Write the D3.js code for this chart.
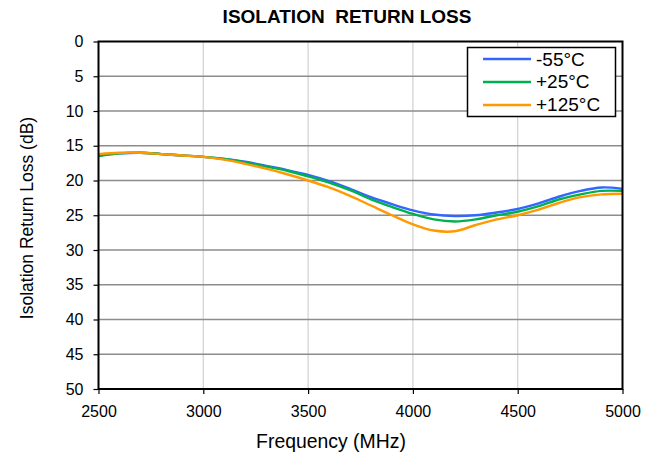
<!DOCTYPE html>
<html>
<head>
<meta charset="utf-8">
<script src="https://cdn.jsdelivr.net/npm/d3@7"></script>
<style>
  body { margin: 0; background: #fff; }
  svg { font-family: "Liberation Sans", Arial, sans-serif; }
</style>
</head>
<body>
<div id="chart"></div>
<script>
// Frequency points (MHz)
let freqs = [2500, 2600, 2700, 2800, 2900, 3000, 3100, 3200, 3300, 3400, 3500, 3600, 3700,
             3800, 3900, 4000, 4100, 4200, 4300, 4400, 4500, 4600, 4700, 4800, 4900, 5000];

// Isolation return loss (dB) per temperature
let cold = [16.4, 16.1, 16.0, 16.2, 16.4, 16.6, 16.9, 17.3, 17.9, 18.5, 19.2, 20.1, 21.2,
            22.4, 23.4, 24.3, 24.9, 25.1, 25.0, 24.6, 24.1, 23.3, 22.3, 21.5, 21.0, 21.2];
let room = [16.5, 16.1, 16.0, 16.2, 16.4, 16.6, 16.9, 17.4, 18.0, 18.6, 19.4, 20.3, 21.4,
            22.7, 23.8, 24.8, 25.6, 25.9, 25.6, 25.0, 24.5, 23.7, 22.7, 22.0, 21.5, 21.5];
let hot  = [16.2, 16.0, 16.0, 16.2, 16.4, 16.6, 17.0, 17.6, 18.3, 19.1, 20.0, 21.0, 22.2,
            23.6, 25.0, 26.3, 27.2, 27.3, 26.4, 25.6, 25.0, 24.2, 23.2, 22.4, 22.0, 21.9];

let seriesNames = ["-55°C", "+25°C", "+125°C"];
let seriesColors = ["#3366FF", "#00B050", "#FF9900"];
let seriesValues = [cold, room, hot];

let xTicks = [2500, 3000, 3500, 4000, 4500, 5000];
let yTicks = [0, 5, 10, 15, 20, 25, 30, 35, 40, 45, 50];

let width = 656;
let height = 455;
let plotLeft = 98.5, plotRight = 622.5, plotTop = 41.5, plotBottom = 389;

let svg = d3.select("#chart")
    .append("svg")
    .attr("width", width)
    .attr("height", height);

let xScale = d3.scaleLinear().domain([2500, 5000]).range([plotLeft, plotRight]);
let yScale = d3.scaleLinear().domain([0, 50]).range([plotTop, plotBottom]);

// vertical grid
svg.append("g")
    .selectAll("line")
    .data(xTicks.slice(1, -1))
    .enter()
    .append("line")
    .attr("x1", d => xScale(d)).attr("x2", d => xScale(d))
    .attr("y1", plotTop).attr("y2", plotBottom)
    .attr("stroke", "#d4d4d4")
    .attr("stroke-width", 1.3);

// horizontal grid
svg.append("g")
    .selectAll("line")
    .data(yTicks.slice(1, -1))
    .enter()
    .append("line")
    .attr("x1", plotLeft).attr("x2", plotRight)
    .attr("y1", d => yScale(d)).attr("y2", d => yScale(d))
    .attr("stroke", "#8c8c8c")
    .attr("stroke-width", 1.5);

// data lines
let line = d3.line()
    .x((d, i) => xScale(freqs[i]))
    .y(d => yScale(d))
    .curve(d3.curveCatmullRom.alpha(0.5));

seriesValues.forEach((vals, k) => {
    svg.append("path")
        .datum(vals)
        .attr("d", line)
        .attr("fill", "none")
        .attr("stroke", seriesColors[k])
        .attr("stroke-width", 2.4);
});

// plot frame
svg.append("rect")
    .attr("x", plotLeft).attr("y", plotTop)
    .attr("width", plotRight - plotLeft).attr("height", plotBottom - plotTop)
    .attr("fill", "none")
    .attr("stroke", "#000")
    .attr("stroke-width", 2);

// axes
let xAxis = d3.axisBottom(xScale).tickValues(xTicks).tickSize(5).tickSizeOuter(0).tickFormat(d3.format("d"));
let yAxis = d3.axisLeft(yScale).tickValues(yTicks).tickSize(5).tickSizeOuter(0);

let gx = svg.append("g")
    .attr("transform", "translate(0," + plotBottom + ")")
    .call(xAxis);
gx.select(".domain").remove();
gx.selectAll("line").attr("stroke", "#000").attr("stroke-width", 1.2);
gx.selectAll("text").attr("font-size", 16).attr("fill", "#000").attr("y", 16.5);

let gy = svg.append("g")
    .attr("transform", "translate(" + plotLeft + ",0)")
    .call(yAxis);
gy.select(".domain").remove();
gy.selectAll("line").attr("stroke", "#000").attr("stroke-width", 1.2);
gy.selectAll("text").attr("font-size", 16).attr("fill", "#000").attr("x", -15);

// title and axis labels
svg.append("text")
    .attr("x", 347).attr("y", 22.7)
    .attr("text-anchor", "middle")
    .attr("font-size", 19)
    .attr("font-weight", "bold")
    .attr("xml:space", "preserve")
    .text("ISOLATION  RETURN LOSS");

svg.append("text")
    .attr("x", 331).attr("y", 448)
    .attr("text-anchor", "middle")
    .attr("font-size", 19.4)
    .text("Frequency (MHz)");

svg.append("text")
    .attr("transform", "translate(33," + 218 + ") rotate(-90)")
    .attr("text-anchor", "middle")
    .attr("font-size", 17.5)
    .text("Isolation Return Loss (dB)");

// legend
let legend = svg.append("g");
legend.append("rect")
    .attr("x", 467.5).attr("y", 47.5)
    .attr("width", 148).attr("height", 69)
    .attr("fill", "#fff")
    .attr("stroke", "#000")
    .attr("stroke-width", 1.5);

legend.selectAll("line")
    .data(seriesNames)
    .enter()
    .append("line")
    .attr("x1", 483).attr("x2", 531)
    .attr("y1", (d, i) => 59 + i * 23).attr("y2", (d, i) => 59 + i * 23)
    .attr("stroke", (d, i) => seriesColors[i])
    .attr("stroke-width", 2.5);

legend.selectAll("text")
    .data(seriesNames)
    .enter()
    .append("text")
    .attr("x", 536)
    .attr("y", (d, i) => 65.5 + i * 22.5)
    .attr("font-size", 19)
    .text(d => d);
</script>
</body>
</html>
